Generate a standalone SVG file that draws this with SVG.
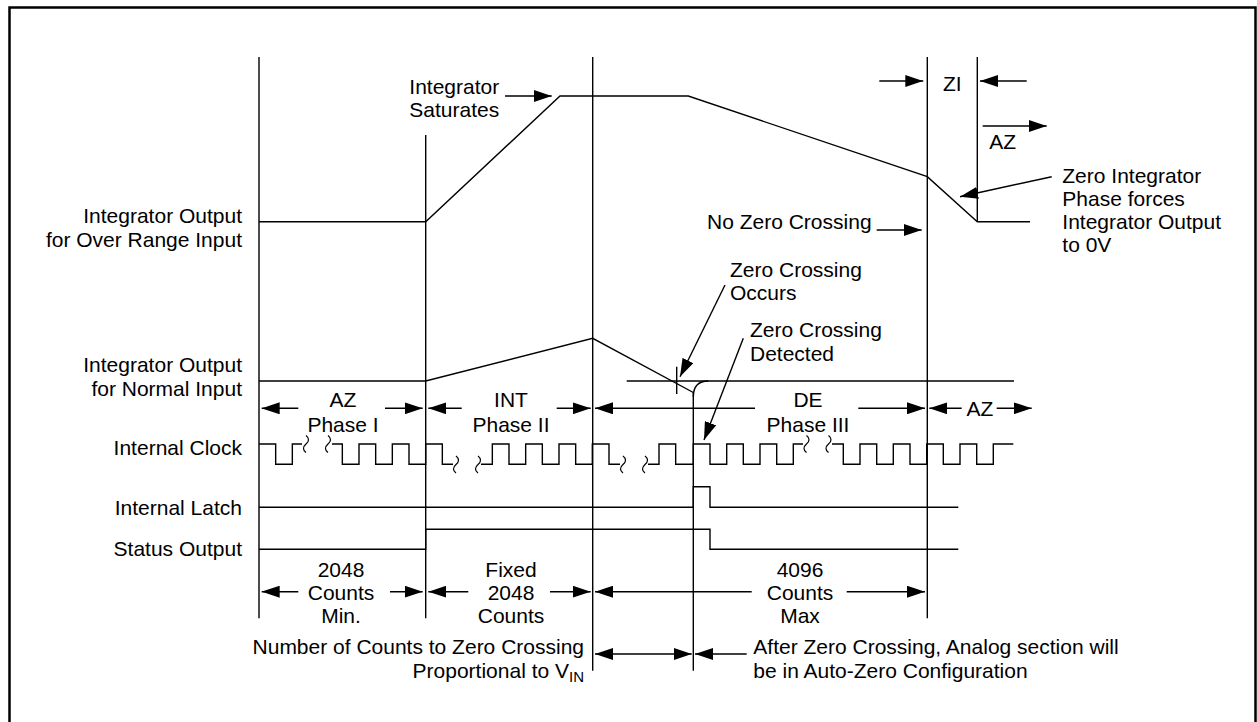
<svg xmlns="http://www.w3.org/2000/svg" width="1257" height="722" viewBox="0 0 1257 722">
<style>
text{font-family:"Liberation Sans",Arial,Helvetica,sans-serif;font-size:21px;fill:#000}
.e{text-anchor:end}
.m{text-anchor:middle}
.ln{fill:none;stroke:#000;stroke-width:1.4}
.ar{fill:none;stroke:#000;stroke-width:1.4;marker-end:url(#ah)}
.da{fill:none;stroke:#000;stroke-width:1.4;marker-start:url(#ah);marker-end:url(#ah)}
.sq{fill:none;stroke:#000;stroke-width:1.2}
</style>
<defs>
<marker id="ah" markerUnits="userSpaceOnUse" viewBox="0 0 18 12" markerWidth="18" markerHeight="12" refX="18" refY="6" orient="auto-start-reverse">
<path d="M0,0 L18,6 L0,12 z" fill="#000"/>
</marker>
</defs>
<rect x="9.5" y="7.5" width="1246" height="730" fill="#fff" stroke="#000" stroke-width="2.5"/>

<g id="labels">
<g id="lbl-over"><text class="e" x="242" y="222.5">Integrator Output</text><text class="e" x="242" y="246.5">for Over Range Input</text></g>
<g id="lbl-normal"><text class="e" x="242" y="372">Integrator Output</text><text class="e" x="242" y="395.7">for Normal Input</text></g>
<g id="lbl-clock"><text class="e" x="242" y="455">Internal Clock</text></g>
<g id="lbl-latch"><text class="e" x="242" y="515">Internal Latch</text></g>
<g id="lbl-status"><text class="e" x="242" y="556">Status Output</text></g>
</g>

<g id="gridlines">
<path class="ln" d="M259,57 V618.3 M425.7,135 V618.3 M592.7,57 V670.7 M693.3,392.5 V670.7 M927.3,57 V618.3 M977.3,57 V221.7"/>
</g>

<g id="trace-over">
<path class="ln" d="M259,221.7 H425.7 L560,96 H688.3 L927.3,176.7 L977.3,221.7 H1030"/>
</g>

<g id="trace-normal">
<path class="ln" d="M259,381 H425.7 L592.7,338.3 L693.3,392.5"/>
<path class="ln" d="M626.7,381 H1014"/>
<path class="ln" d="M693.3,397 Q693.3,381 708.3,381"/>
<path class="ln" d="M676.7,366.7 V394"/>
</g>

<g id="trace-clock">
<path class="ln" d="M259,444 H275.67 V464.3 H292.33 V444 H302"/>
<path class="ln" d="M332,444 H342.33 V464.3 H359 V444 H375.67 V464.3 H392.33 V444 H409 V464.3 H425.67 V444 H442.33 V464.3 H453"/>
<path class="ln" d="M481,464.3 H492.33 V444 H509 V464.3 H525.67 V444 H542.33 V464.3 H559 V444 H575.67 V464.3 H592.33 V444 H609 V464.3 H620"/>
<path class="ln" d="M648,464.3 H659 V444 H675.67 V464.3 H693.3 V444 H710 V464.3 H726.7 V444 H743.3 V464.3 H760 V444 H776.7 V464.3 H793.3 V444 H803"/>
<path class="ln" d="M832,444 H843.3 V464.3 H860 V444 H876.7 V464.3 H893.3 V444 H910 V464.3 H926.7 V444 H943.3 V464.3 H960 V444 H976.7 V464.3 H993.3 V444 H1013.3"/>
<path class="sq" d="M306,435.5 q5,4 0,8.5 q-5,4.5 0,8.5 M328,435.5 q5,4 0,8.5 q-5,4.5 0,8.5"/>
<path class="sq" d="M456,456 q5,4 0,8.5 q-5,4.5 0,8.5 M478,456 q5,4 0,8.5 q-5,4.5 0,8.5"/>
<path class="sq" d="M623,456 q5,4 0,8.5 q-5,4.5 0,8.5 M645,456 q5,4 0,8.5 q-5,4.5 0,8.5"/>
<path class="sq" d="M806.5,435.5 q5,4 0,8.5 q-5,4.5 0,8.5 M828.5,435.5 q5,4 0,8.5 q-5,4.5 0,8.5"/>
</g>

<g id="trace-latch">
<path class="ln" d="M259,507.3 H693.3 V486.7 H710 V507.3 H958.3"/>
</g>

<g id="trace-status">
<path class="ln" d="M259,549.3 H425.7 V529.3 H710 V549.3 H958.3"/>
</g>

<g id="connectors">
<path class="ar" d="M505,96 H551.7"/>
<path class="ar" d="M879.3,81 H923.3"/>
<path class="ar" d="M1026.7,81 H980"/>
<path class="ar" d="M982.7,126 H1046.7"/>
<path class="ar" d="M1051.7,176.7 L960,196.7"/>
<path class="ar" d="M876.7,230 H921.7"/>
<path class="ar" d="M725,285 L680,376.7"/>
<path class="ar" d="M743.3,338.3 L704,440"/>
<path class="ar" d="M298.3,408.3 H261.7"/>
<path class="ar" d="M385,408.3 H422.7"/>
<path class="ar" d="M461.7,408.3 H428.3"/>
<path class="ar" d="M556.7,408.3 H590.7"/>
<path class="ar" d="M755,408.3 H595"/>
<path class="ar" d="M858.3,408.3 H925"/>
<path class="ar" d="M961.7,408.3 H929.3"/>
<path class="ar" d="M996.7,408.3 H1031.7"/>
<path class="ar" d="M298.3,591.7 H261.7"/>
<path class="ar" d="M390,591.7 H422.7"/>
<path class="ar" d="M468.3,591.7 H428.3"/>
<path class="ar" d="M550,591.7 H590.7"/>
<path class="ar" d="M751.7,591.7 H595"/>
<path class="ar" d="M846.7,591.7 H925"/>
<path class="da" d="M595,654 H691.7"/>
<path class="ar" d="M746.7,654 H695"/>
</g>

<g id="annotations">
<g id="ann-saturates"><text x="409.3" y="94.3">Integrator</text><text x="409.3" y="117.3">Saturates</text></g>
<g id="ann-zi"><text class="m" x="952.3" y="90.7">ZI</text></g>
<g id="ann-az-top"><text class="m" x="1002.7" y="149.3">AZ</text></g>
<g id="ann-zero-int"><text x="1062.3" y="183.3">Zero Integrator</text><text x="1062.3" y="206">Phase forces</text><text x="1062.3" y="229.3">Integrator Output</text><text x="1062.3" y="252.3">to 0V</text></g>
<g id="ann-nozero"><text x="707" y="229">No Zero Crossing</text></g>
<g id="ann-zc-occurs"><text x="730" y="276.7">Zero Crossing</text><text x="730" y="300">Occurs</text></g>
<g id="ann-zc-detected"><text x="750" y="337.3">Zero Crossing</text><text x="750" y="360.5">Detected</text></g>
<g id="ph-az1"><text class="m" x="343" y="406.7">AZ</text><text class="m" x="343" y="431.5">Phase I</text></g>
<g id="ph-int"><text class="m" x="511" y="406.7">INT</text><text class="m" x="511" y="431.5">Phase II</text></g>
<g id="ph-de"><text class="m" x="808" y="406.7">DE</text><text class="m" x="808" y="431.5">Phase III</text></g>
<g id="ph-az2"><text class="m" x="980" y="415.7">AZ</text></g>
<g id="cnt-min"><text class="m" x="341" y="576.7">2048</text><text class="m" x="341" y="600">Counts</text><text class="m" x="341" y="623.3">Min.</text></g>
<g id="cnt-fixed"><text class="m" x="511" y="576.7">Fixed</text><text class="m" x="511" y="600">2048</text><text class="m" x="511" y="623.3">Counts</text></g>
<g id="cnt-max"><text class="m" x="800" y="576.7">4096</text><text class="m" x="800" y="600">Counts</text><text class="m" x="800" y="623.3">Max</text></g>
<g id="note-left"><text class="e" x="584" y="654.3">Number of Counts to Zero Crossing</text><text class="e" x="584" y="677.7">Proportional to V<tspan font-size="15" dy="4">IN</tspan></text></g>
<g id="note-right"><text x="753.3" y="654.3">After Zero Crossing, Analog section will</text><text x="753.3" y="677.7">be in Auto-Zero Configuration</text></g>
</g>
</svg>
